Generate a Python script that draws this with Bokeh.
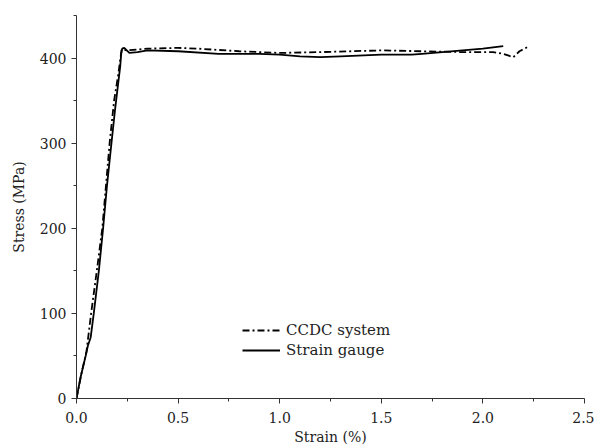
from bokeh.plotting import figure
from bokeh.models import Range1d, FixedTicker, PrintfTickFormatter, Legend, LegendItem
from bokeh.embed import file_html
from bokeh.resources import INLINE

# Strain gauge (solid)
sg_strain = [0.0, 0.02, 0.045, 0.056, 0.07, 0.085, 0.11, 0.131, 0.15, 0.172, 0.19, 0.205, 0.215,
             0.22, 0.225, 0.235, 0.26, 0.30, 0.35, 0.50, 0.70, 0.90, 1.00, 1.10, 1.20, 1.30, 1.50,
             1.65, 1.70, 1.90, 2.00, 2.10]
sg_stress = [0, 25, 50, 62, 72, 100, 150, 200, 250, 300, 340, 370, 390,
             405, 411, 412, 406, 407, 409, 408, 405, 405, 404, 402, 401, 402, 404,
             404, 405, 409, 411, 414]

# CCDC system (dash-dot)
cc_strain = [0.0, 0.025, 0.049, 0.072, 0.10, 0.127, 0.145, 0.163, 0.185, 0.205, 0.222, 0.25,
             0.35, 0.50, 0.60, 0.80, 1.00, 1.20, 1.50, 1.70, 1.90, 2.05, 2.10, 2.15, 2.18, 2.22]
cc_stress = [0, 30, 55, 100, 150, 200, 250, 300, 350, 380, 410, 409,
             411, 412, 411, 408, 406, 407, 409, 408, 407, 407, 405, 401, 408, 413]

x_ticks = [0.0, 0.5, 1.0, 1.5, 2.0, 2.5]
x_minor = [0.25, 0.75, 1.25, 1.75, 2.25]
y_ticks = [0, 100, 200, 300, 400]
y_minor = [50, 150, 250, 350, 450]

FONT = "DejaVu Serif"

p = figure(width=594, height=447, output_backend="svg", toolbar_location=None,
           x_range=Range1d(0, 2.5), y_range=Range1d(0, 450),
           min_border_left=76, min_border_right=10, min_border_top=15, min_border_bottom=46)
p.outline_line_color = None
p.grid.visible = False

l1 = p.line(cc_strain, cc_stress, line_color="black", line_width=1.8, line_dash="7 3 2 3")
l2 = p.line(sg_strain, sg_stress, line_color="black", line_width=1.8)

for ax in (p.xaxis[0], p.yaxis[0]):
    ax.axis_line_color = "#333333"
    ax.major_tick_line_color = "#333333"
    ax.minor_tick_line_color = "#333333"
    ax.major_tick_in = 0
    ax.major_tick_out = 5
    ax.minor_tick_in = 0
    ax.minor_tick_out = 3
    ax.major_label_text_font = FONT
    ax.major_label_text_font_size = "14px"
    ax.major_label_text_color = "#222222"
    ax.axis_label_text_font = FONT
    ax.axis_label_text_font_size = "14px"
    ax.axis_label_text_font_style = "normal"
    ax.axis_label_text_color = "#222222"

p.xaxis[0].ticker = FixedTicker(ticks=x_ticks, minor_ticks=x_minor)
p.xaxis[0].formatter = PrintfTickFormatter(format="%.1f")
p.xaxis[0].axis_label = "Strain (%)"
p.xaxis[0].axis_label_standoff = 3
p.xaxis[0].major_label_standoff = 8
p.yaxis[0].ticker = FixedTicker(ticks=y_ticks, minor_ticks=y_minor)
p.yaxis[0].axis_label = "Stress (MPa)"
p.yaxis[0].axis_label_standoff = 10

legend = Legend(items=[LegendItem(label="CCDC system", renderers=[l1]),
                       LegendItem(label="Strain gauge", renderers=[l2])],
                location=(166, 38), padding=0, margin=0, spacing=0,
                glyph_width=38, glyph_height=20, label_height=20,
                label_text_font=FONT, label_text_font_size="15px", label_text_color="#222222",
                border_line_color=None, background_fill_alpha=0, label_standoff=6)
p.add_layout(legend, "center")

open("out.html", "w").write(file_html(p, INLINE))
